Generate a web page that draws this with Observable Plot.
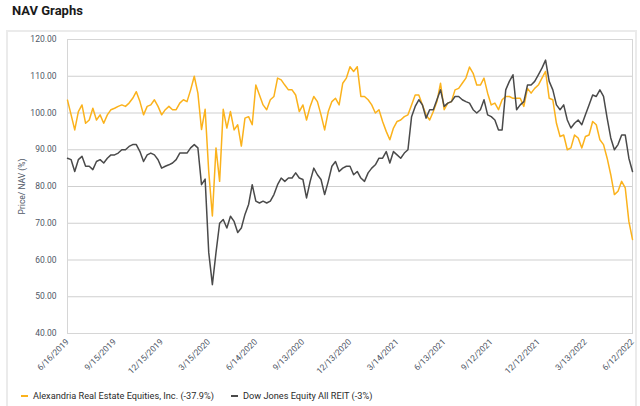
<!DOCTYPE html>
<html>
<head>
<meta charset="utf-8">
<script src="https://cdn.jsdelivr.net/npm/d3@7"></script>
<script src="https://cdn.jsdelivr.net/npm/@observablehq/plot@0.6"></script>
<style>
  body { margin: 0; background: #fff; font-family: Roboto, "Noto Sans", sans-serif; }
  #wrap { position: relative; width: 640px; height: 406px; overflow: hidden; }
  #title { position: absolute; left: 12px; top: 3px; font-size: 13px; font-weight: 700; color: #1a1a1a; }
  #card { position: absolute; left: 6px; top: 30px; width: 631px; height: 390px; border: 2px solid #ebebeb; box-sizing: border-box; }
  #chart { position: absolute; left: 0; top: 0; }
  .leg { position: absolute; top: 389px; font-size: 9.2px; color: #2b2b2b; white-space: nowrap; line-height: 13px; }
  .sw { position: absolute; top: 395px; width: 7px; height: 2px; }
</style>
</head>
<body>
<div id="wrap">
  <div id="title">NAV Graphs</div>
  <div id="card"></div>
  <div id="chart"></div>
</div>
<script>
const startDate = "2019-06-16";
const endDate = "2022-06-12";
const seriesNames = ["Alexandria Real Estate Equities, Inc. (-37.9%)", "Dow Jones Equity All REIT (-3%)"];
const seriesColors = ["#fbb21c", "#4a4a4a"];
const tickLabels = ["6/16/2019","9/15/2019","12/15/2019","3/15/2020","6/14/2020","9/13/2020","12/13/2020","3/14/2021","6/13/2021","9/12/2021","12/12/2021","3/13/2022","6/12/2022"];
const yTicks = [40, 50, 60, 70, 80, 90, 100, 110, 120];

// weekly values, one per week from startDate
const areValues = [
  103.5, 99.5, 95.4, 100.4, 102.2, 97.2, 98.1, 101.3, 98.1, 99.5,
  97.2, 99.5, 100.9, 101.3, 101.8, 102.2, 101.8, 102.7, 104, 105.8,
  103.1, 99.5, 101.8, 102.2, 103.6, 101.8, 99.5, 100.9, 101.8, 100.9,
  100.9, 102.7, 103.6, 103.1, 106.3, 110, 105.4, 95.5, 101, 84,
  72, 90.5, 81.4, 101, 95.9, 100.4, 95.4, 96.8, 91, 98.6,
  99, 96.8, 107.6, 104.9, 102.2, 100.9, 103.6, 104.5, 109.5, 109,
  107.6, 106.3, 106.3, 104.9, 100.4, 102.2, 98.1, 101.8, 104.5, 103.1,
  99.5, 95.4, 100.4, 103.1, 104, 102.2, 108.1, 109.5, 112.6, 111.3,
  112.6, 104.5, 104.5, 103.6, 102.2, 100, 100.9, 97.7, 95, 92.7,
  95.9, 97.7, 98.1, 99, 99.5, 102.2, 104.9, 104.9, 102.2, 99.5,
  98.1, 100.4, 103.1, 108.1, 100.9, 102.7, 103.1, 106.3, 106.7, 108.1,
  109.5, 112.5, 110.8, 107.6, 107.6, 109.5, 105.4, 102.2, 102.7, 100.9,
  103.6, 104.5, 104.5, 104, 104, 104, 101.8, 106.7, 105.4, 106.7,
  107.6, 109.5, 111.3, 104, 103.6, 97.2, 93.6, 94, 90, 90.5,
  94, 93.2, 90.5, 93.6, 94, 97.7, 96.8, 92.7, 91.4, 87.7,
  83.2, 77.8, 78.7, 81.4, 79.6, 70.5, 65.6
];
const reitValues = [
  87.7, 87.3, 84.1, 87.3, 88.2, 85.5, 85.5, 84.6, 86.8, 87.3,
  86.4, 87.7, 88.6, 88.6, 89.1, 90, 90, 90.9, 91.4, 91.4,
  89.5, 86.8, 88.6, 89.1, 88.6, 87.3, 85, 85.5, 85.9, 86.4,
  87.3, 89.1, 89.1, 89.1, 90.5, 91.4, 90.5, 80.5, 82, 62,
  53.3, 62, 70, 71, 68.7, 71.9, 70.5, 67.5, 68.7, 72.4,
  75.1, 80.5, 76, 75.5, 76, 75.5, 76, 77.8, 80.5, 82.3,
  81.4, 82.3, 82.3, 83.7, 82.3, 81.9, 76.9, 81.4, 85, 83.2,
  81.9, 77.8, 81.4, 85.5, 86.8, 84.1, 85, 85.5, 85.5, 83.2,
  84.1, 82.3, 81.4, 83.7, 85, 85.9, 87.7, 87.7, 89.5, 86.4,
  89.5, 88.6, 87.7, 89.1, 90, 99, 101.8, 103.6, 102.2, 98.6,
  100.9, 100.9, 103.6, 106.3, 101.8, 102.7, 103.1, 104.5, 104.5, 103.6,
  103.1, 102.7, 100.9, 100, 100.9, 103.6, 99.5, 99, 98.1, 95.4,
  95.4, 106.3, 108.6, 110.4, 100.9, 102.2, 103.1, 107.6, 107.6, 108.6,
  110.4, 112.2, 114.4, 108.6, 106.3, 102.2, 100.9, 102.2, 98.1, 95.9,
  97.2, 98.1, 96.8, 99.5, 102.2, 104.9, 104.5, 106.3, 104.5, 98.6,
  93.2, 90, 91.4, 94, 94, 87.7, 84.1
];

const parseISO = d3.utcParse("%Y-%m-%d");
const parseTick = d3.utcParse("%m/%d/%Y");
const t0 = parseISO(startDate);
const toRows = (vals, name) => vals.map((v, i) => ({date: d3.utcDay.offset(t0, 7 * i), value: v, series: name}));
const rows = [...toRows(areValues, seriesNames[0]), ...toRows(reitValues, seriesNames[1])];
const tickDates = tickLabels.map(parseTick);
const labelOf = new Map(tickDates.map((d, i) => [+d, tickLabels[i]]));

const chart = Plot.plot({
  width: 640,
  height: 380,
  marginLeft: 67,
  marginRight: 8,
  marginTop: 39,
  marginBottom: 47,
  style: {fontFamily: "Roboto, sans-serif", fontSize: "8.5px", color: "#4f5766", background: "transparent"},
  x: {type: "utc", domain: [t0, parseISO(endDate)]},
  y: {domain: [40, 120]},
  color: {domain: seriesNames, range: seriesColors},
  marks: [
    Plot.gridY(yTicks, {stroke: "#cfcfcf", strokeOpacity: 1}),
    Plot.frame({stroke: "#d6d6d6"}),
    Plot.axisY(yTicks, {tickSize: 0, tickPadding: 11, tickFormat: d3.format(".2f"), label: "Price/ NAV (%)", labelAnchor: "center", labelArrow: "none", labelOffset: 49}),
    Plot.axisX(tickDates, {tickSize: 0, tickPadding: 7, tickRotate: -45, tickFormat: d => labelOf.get(+d), label: null}),
    Plot.line(rows, {x: "date", y: "value", z: "series", stroke: "series", strokeWidth: 1.5, curve: "linear"})
  ]
});
document.getElementById("chart").appendChild(chart);

const wrap = document.getElementById("wrap");
const legendPos = [{sw: 21, tx: 33}, {sw: 231, tx: 243}];
seriesNames.forEach((name, i) => {
  const sw = document.createElement("div");
  sw.className = "sw";
  sw.style.left = legendPos[i].sw + "px";
  sw.style.background = seriesColors[i];
  wrap.appendChild(sw);
  const tx = document.createElement("div");
  tx.className = "leg";
  tx.style.left = legendPos[i].tx + "px";
  tx.textContent = name;
  wrap.appendChild(tx);
});
</script>
</body>
</html>
